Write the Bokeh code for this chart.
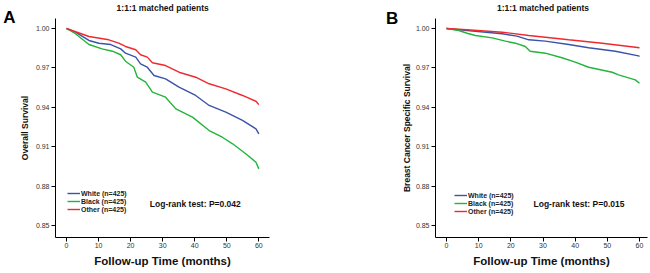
from bokeh.plotting import figure
from bokeh.layouts import row
from bokeh.models import Range1d, Label, Legend, LegendItem, FixedTicker, NumeralTickFormatter
from bokeh.embed import file_html
from bokeh.resources import INLINE

FONT = "Liberation Sans"

# ---- data ----
series_labels = ["White (n=425)", "Black (n=425)", "Other (n=425)"]
series_colors = ["#3a53a8", "#22b53a", "#ee2a30"]

a_white_t = [0, 2.8, 7, 10.1, 13.8, 16.9, 18.4, 21.6, 23.1, 25.2, 27.3, 30.9, 35.1, 40.3, 44.5, 49.7, 54.9, 59.1, 60]
a_white_s = [1.0, 0.9972, 0.9909, 0.9888, 0.9878, 0.9845, 0.9812, 0.9782, 0.9731, 0.9705, 0.9642, 0.9617, 0.9553, 0.949, 0.9414, 0.9363, 0.930, 0.9236, 0.9198]
a_black_t = [0, 2.8, 7, 11.1, 14.3, 16.9, 18.4, 21.0, 22.1, 24.7, 26.8, 30.9, 34.1, 39.3, 44.5, 48.6, 51.8, 55.9, 59.1, 60]
a_black_s = [1.0, 0.996, 0.9878, 0.9845, 0.9827, 0.980, 0.9751, 0.9705, 0.9629, 0.9591, 0.9515, 0.9477, 0.9388, 0.9325, 0.9223, 0.9172, 0.9122, 0.9046, 0.8982, 0.8931]
a_other_t = [0, 7, 13.2, 16.3, 18.4, 21.6, 23.1, 25.2, 26.8, 30.9, 35.1, 40.3, 44.5, 49.7, 54.9, 59.1, 60]
a_other_s = [1.0, 0.9939, 0.9914, 0.9888, 0.9863, 0.9838, 0.980, 0.9782, 0.9739, 0.9718, 0.9667, 0.9629, 0.9579, 0.954, 0.949, 0.9446, 0.942]

b_white_t = [0, 6.4, 17.3, 21.9, 25.6, 30.7, 38, 44.2, 52.5, 59.7, 60]
b_white_s = [1.0, 0.9985, 0.996, 0.9942, 0.9914, 0.9904, 0.9878, 0.9853, 0.9827, 0.9792, 0.9787]
b_black_t = [0, 3.8, 6.4, 9, 14.2, 18.3, 21.4, 24.5, 26, 30.7, 35.9, 40, 44.2, 51.5, 53.5, 58.7, 60]
b_black_s = [1.0, 0.9985, 0.9964, 0.9947, 0.9929, 0.9904, 0.9888, 0.9863, 0.9827, 0.9812, 0.9777, 0.9744, 0.9705, 0.9667, 0.9647, 0.9609, 0.9583]
b_other_t = [0, 6.4, 17.3, 25.6, 38, 48.4, 60]
b_other_s = [1.0, 0.999, 0.9972, 0.9947, 0.9914, 0.9888, 0.9853]

x_ticks = [0, 10, 20, 30, 40, 50, 60]
y_ticks = [0.85, 0.88, 0.91, 0.94, 0.97, 1.00]

Y_LOW, Y_HIGH = 0.84086, 1.00761     # extent of the drawn y axis
Y_RANGE = (0.81345, 1.02132)         # whole canvas height

panels = [
    dict(letter="A", ylabel="Overall Survival", pval="Log-rank test: P=0.042",
         curves=[(a_white_t, a_white_s), (a_black_t, a_black_s), (a_other_t, a_other_s)],
         xr=(-20.59, 80.79), xb=(-3.431, 63.4), ystand=3, letter_x=-17.8, letter_y=1.0085,
         p_x=26.0, leg=(67, 60)),
    dict(letter="B", ylabel="Breast Cancer Specific Survival", pval="Log-rank test: P=0.015",
         curves=[(b_white_t, b_white_s), (b_black_t, b_black_s), (b_other_t, b_other_s)],
         xr=(-37.62, 63.42), xb=(-3.42, 62.49), ystand=1, letter_x=-16.9, letter_y=1.0078,
         p_x=27.05, leg=(129, 58)),
]

figs = []
for pan in panels:
    p = figure(width=325, height=273, output_backend="svg", toolbar_location=None,
               x_range=Range1d(*pan["xr"]), y_range=Range1d(*Y_RANGE),
               min_border_left=0, min_border_right=0, min_border_top=0, min_border_bottom=0)
    p.outline_line_color = None
    p.xgrid.grid_line_color = None
    p.ygrid.grid_line_color = None
    p.background_fill_color = "white"
    p.border_fill_color = "white"

    for ax in (p.xaxis[0], p.yaxis[0]):
        ax.axis_line_color = "black"
        ax.axis_line_width = 1
        ax.major_tick_line_color = "black"
        ax.major_tick_in = 0
        ax.major_tick_out = 4
        ax.minor_tick_line_color = None
        ax.major_label_text_font = FONT
        ax.major_label_text_font_size = "7px"
        ax.major_label_text_color = "#333333"
        ax.axis_label_text_font = FONT
        ax.axis_label_text_font_style = "bold"
        ax.axis_label_text_color = "#111111"

    xa = p.xaxis[0]
    xa.ticker = FixedTicker(ticks=x_ticks)
    xa.fixed_location = Y_LOW
    xa.bounds = pan["xb"]
    xa.major_label_standoff = 1
    xa.axis_label = "Follow-up Time (months)"
    xa.axis_label_text_font_size = "11.5px"
    xa.axis_label_standoff = 4

    ya = p.yaxis[0]
    ya.ticker = FixedTicker(ticks=y_ticks)
    ya.formatter = NumeralTickFormatter(format="0.00")
    ya.fixed_location = pan["xb"][0]
    ya.bounds = (Y_LOW, Y_HIGH)
    ya.major_label_standoff = 2
    ya.axis_label = pan["ylabel"]
    ya.axis_label_text_font_size = "8.5px"
    ya.axis_label_standoff = pan["ystand"]

    items = []
    for (t, s), lab, col in zip(pan["curves"], series_labels, series_colors):
        r = p.line(t, s, line_color=col, line_width=1.4)
        items.append(LegendItem(label=lab, renderers=[r]))

    leg = Legend(items=items, location=pan["leg"], orientation="vertical",
                 label_text_font=FONT, label_text_font_size="7px", label_text_font_style="bold",
                 label_text_color="#222222", glyph_width=13, glyph_height=8, label_height=8,
                 label_standoff=1, spacing=0, padding=0, margin=0,
                 border_line_color=None, background_fill_alpha=0)
    p.add_layout(leg, "center")

    p.add_layout(Label(x=30, y=1.0156, text="1:1:1 matched patients", text_font=FONT,
                       text_font_size="8.5px", text_font_style="bold", text_align="center",
                       text_baseline="middle", text_color="#111111"))
    p.add_layout(Label(x=pan["letter_x"], y=pan["letter_y"], text=pan["letter"], text_font=FONT,
                       text_font_size="17px", text_font_style="bold", text_align="center",
                       text_baseline="middle", text_color="black"))
    p.add_layout(Label(x=pan["p_x"], y=0.8667, text=pan["pval"], text_font=FONT,
                       text_font_size="8.5px", text_font_style="bold", text_align="left",
                       text_baseline="middle", text_color="#111111"))
    figs.append(p)

layout = row(*figs, spacing=0)
open("out.html", "w").write(file_html(layout, INLINE))
